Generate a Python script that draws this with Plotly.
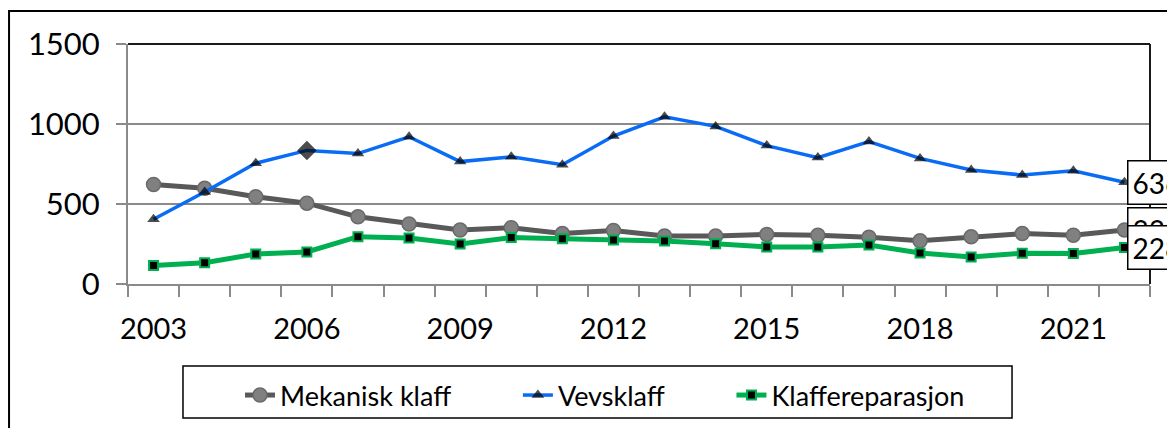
import plotly.graph_objects as go

years = list(range(2003, 2023))
mekanisk = [622, 598, 545, 505, 420, 375, 337, 352, 315, 335, 300, 300, 310, 305, 292, 270, 295, 315, 305, 338]
vevsklaff = [405, 575, 755, 835, 815, 920, 765, 795, 745, 925, 1045, 985, 865, 790, 890, 785, 712, 681, 708, 636]
reparasjon = [115, 133, 187, 200, 296, 287, 250, 290, 283, 275, 269, 252, 231, 231, 244, 194, 169, 192, 190, 228]
names = ["Mekanisk klaff", "Vevsklaff", "Klaffereparasjon"]
end_labels = ["338", "636", "228"]

FONT = "Lato, Liberation Sans, sans-serif"
PAD = "\u00a0" * 9  # spacing between legend entries

fig = go.Figure()
fig.add_trace(go.Scatter(
    x=years, y=mekanisk, name=names[0] + PAD, mode="lines+markers",
    line=dict(color="#595959", width=5),
    marker=dict(symbol="circle", size=14, color="#808080", line=dict(color="#6a6a6a", width=1.5)),
))
vev_symbols = ["triangle-up"] * len(years)
vev_sizes = [11] * len(years)
vev_symbols[3] = "diamond"
vev_sizes[3] = 15
fig.add_trace(go.Scatter(
    x=years, y=vevsklaff, name=names[1] + PAD, mode="lines+markers",
    line=dict(color="#0A6CF5", width=3.5),
    marker=dict(symbol=vev_symbols, size=vev_sizes, color="black", line=dict(width=0)),
))
fig.add_trace(go.Scatter(
    x=years, y=reparasjon, name=names[2], mode="lines+markers",
    line=dict(color="#00B050", width=5),
    marker=dict(symbol="square", size=9, color="black", line=dict(color="#00B050", width=2)),
))

for val, lab in [(mekanisk[-1], end_labels[0]), (vevsklaff[-1], end_labels[1]), (reparasjon[-1], end_labels[2])]:
    fig.add_annotation(
        x=years[-1], y=val, text=lab, showarrow=False, xanchor="left", yanchor="middle",
        xshift=3, font=dict(family=FONT, size=28, color="black"),
        bgcolor="white", bordercolor="black", borderwidth=1.5, borderpad=4,
    )

# plot-area top/right border
fig.add_shape(type="line", xref="paper", yref="paper", x0=0, x1=1, y0=1, y1=1,
              line=dict(color="#1a1a1a", width=2))
fig.add_shape(type="line", xref="paper", yref="paper", x0=1, x1=1, y0=0, y1=1,
              line=dict(color="#1a1a1a", width=2))
# outer chart border
fig.add_shape(type="rect", xref="paper", yref="paper", x0=-0.1164, x1=1.2, y0=-0.9, y1=1.1375,
              line=dict(color="black", width=2), layer="below")
# legend box
fig.add_shape(type="rect", xref="paper", yref="paper", x0=0.0538, x1=0.865, y0=-0.5583, y1=-0.3417,
              line=dict(color="black", width=1.5), fillcolor="white", layer="below")

fig.update_layout(
    width=1175, height=428,
    margin=dict(l=120, r=33, t=36, b=152, autoexpand=False),
    paper_bgcolor="white", plot_bgcolor="white",
    font=dict(family=FONT, color="black"),
    showlegend=True,
    legend=dict(
        orientation="h", xref="container", yref="container",
        x=232 / 1175, xanchor="left", y=1 - 363 / 428, yanchor="top",
        borderwidth=0, bgcolor="rgba(0,0,0,0)",
        font=dict(family=FONT, size=27, color="black"),
        itemwidth=30, tracegroupgap=0,
    ),
)
fig.update_xaxes(
    range=[2002.5, 2022.5], tickmode="linear", tick0=2003, dtick=3, automargin=False,
    ticks="", showgrid=False, zeroline=False,
    showline=True, linecolor="#8a8a8a", linewidth=2,
    tickfont=dict(family=FONT, size=29, color="black"),
    ticklabelstandoff=18,
    minor=dict(tickmode="linear", tick0=2002.5, dtick=1, ticks="outside", ticklen=11,
               tickcolor="#8a8a8a", tickwidth=2, showgrid=False),
)
fig.update_yaxes(
    range=[0, 1500], tickvals=[0, 500, 1000, 1500], automargin=False,
    ticks="outside", ticklen=10, tickcolor="#8a8a8a", tickwidth=2,
    showgrid=True, gridcolor="#8a8a8a", gridwidth=2, zeroline=False,
    showline=True, linecolor="#8a8a8a", linewidth=2,
    tickfont=dict(family=FONT, size=31, color="black"),
    ticklabelstandoff=10,
)

fig.write_html("out.html")
